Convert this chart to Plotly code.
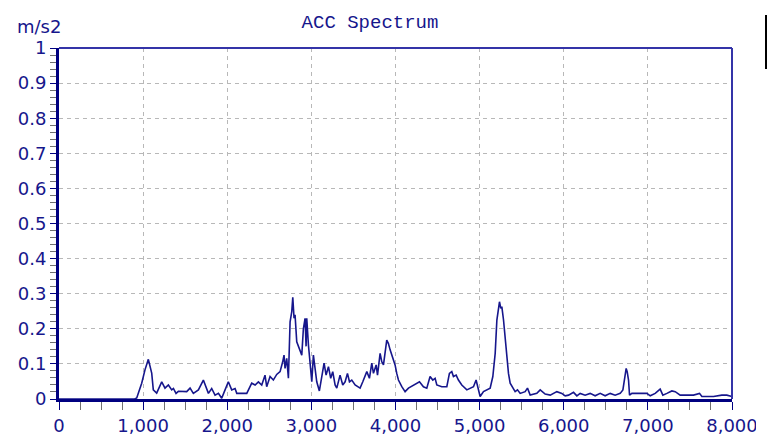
import plotly.graph_objects as go

# ---- data ----
freq = [0, 900, 924, 983, 1022, 1062, 1102, 1121, 1161, 1221, 1260, 1300, 1340, 1360, 1391, 1419,
        1518, 1558, 1597, 1657, 1716, 1750, 1776, 1815, 1855, 1895, 1934, 1974, 2013, 2053, 2093,
        2113, 2232, 2291, 2331, 2370, 2410, 2449, 2469, 2509, 2548, 2588, 2628, 2659, 2675, 2687,
        2707, 2727, 2747, 2767, 2779, 2794, 2806, 2826, 2858, 2886, 2905, 2925, 2937, 2945, 2965,
        2985, 3005, 3024, 3044, 3064, 3095, 3124, 3151, 3175, 3203, 3230, 3254, 3282, 3302, 3341,
        3373, 3401, 3429, 3453, 3480, 3520, 3579, 3611, 3639, 3659, 3690, 3718, 3738, 3770, 3786,
        3817, 3837, 3857, 3896, 3916, 3936, 3967, 3995, 4015, 4035, 4075, 4114, 4154, 4213, 4285,
        4332, 4372, 4411, 4443, 4471, 4491, 4550, 4610, 4641, 4669, 4689, 4721, 4748, 4788, 4848,
        4887, 4927, 4958, 4986, 5006, 5046, 5086, 5125, 5157, 5185, 5205, 5224, 5236, 5252, 5264,
        5284, 5304, 5323, 5343, 5363, 5395, 5422, 5450, 5482, 5541, 5569, 5601, 5680, 5720, 5779,
        5839, 5918, 5977, 6017, 6057, 6116, 6156, 6195, 6254, 6314, 6373, 6433, 6492, 6552, 6611,
        6671, 6703, 6722, 6742, 6754, 6770, 6782, 6810, 6909, 6988, 7028, 7087, 7146, 7178, 7226,
        7285, 7325, 7384, 7463, 7542, 7614, 7642, 7780, 7879, 7939, 7979, 8000]

acc = [0, 0, 0.003, 0.045, 0.083, 0.113, 0.074, 0.026, 0.017, 0.049, 0.031, 0.040, 0.026, 0.030, 0.016, 0.022,
       0.021, 0.031, 0.016, 0.026, 0.054, 0.035, 0.016, 0.030, 0.011, 0.016, 0.002, 0.026, 0.049, 0.026, 0.030,
       0.016, 0.016, 0.045, 0.040, 0.049, 0.040, 0.068, 0.035, 0.064, 0.054, 0.070, 0.078, 0.106, 0.125, 0.087,
       0.116, 0.059, 0.220, 0.249, 0.290, 0.230, 0.240, 0.163, 0.144, 0.125, 0.200, 0.230, 0.150, 0.230, 0.154,
       0.097, 0.049, 0.125, 0.087, 0.049, 0.023, 0.068, 0.102, 0.068, 0.092, 0.059, 0.078, 0.040, 0.031, 0.068,
       0.040, 0.049, 0.073, 0.049, 0.054, 0.040, 0.031, 0.049, 0.068, 0.078, 0.059, 0.102, 0.073, 0.097, 0.068,
       0.130, 0.106, 0.097, 0.168, 0.158, 0.140, 0.120, 0.097, 0.073, 0.054, 0.035, 0.021, 0.031, 0.040, 0.049,
       0.035, 0.031, 0.064, 0.054, 0.059, 0.040, 0.035, 0.035, 0.073, 0.078, 0.064, 0.068, 0.054, 0.040, 0.026,
       0.031, 0.035, 0.054, 0.026, 0.007, 0.021, 0.026, 0.031, 0.064, 0.130, 0.225, 0.263, 0.277, 0.258, 0.263,
       0.225, 0.168, 0.121, 0.073, 0.045, 0.031, 0.021, 0.026, 0.016, 0.021, 0.031, 0.011, 0.016, 0.026, 0.014,
       0.011, 0.021, 0.016, 0.009, 0.011, 0.019, 0.009, 0.016, 0.011, 0.016, 0.009, 0.016, 0.009, 0.016, 0.011,
       0.016, 0.026, 0.059, 0.087, 0.078, 0.054, 0.011, 0.016, 0.016, 0.016, 0.009, 0.016, 0.028, 0.011, 0.016,
       0.023, 0.021, 0.011, 0.011, 0.011, 0.016, 0.007, 0.007, 0.011, 0.011, 0.007, 0.007]

x_tickvals = [0, 1000, 2000, 3000, 4000, 5000, 6000, 7000, 8000]
x_ticktext = ["0", "1,000", "2,000", "3,000", "4,000", "5,000", "6,000", "7,000", "8,000"]
y_tickvals = [0, 0.1, 0.2, 0.3, 0.4, 0.5, 0.6, 0.7, 0.8, 0.9, 1]
y_ticktext = ["0", "0.1", "0.2", "0.3", "0.4", "0.5", "0.6", "0.7", "0.8", "0.9", "1"]

title_text = "ACC Spectrum"
unit_text = "m/s2"

NAVY = "#16168c"
FONT = "DejaVu Sans"
FS = 18

# minor tick positions every 250 Hz
x_minor = [k * 250 for k in range(33) if k % 4 != 0]

fig = go.Figure()
fig.add_trace(go.Scatter(x=freq, y=acc, mode="lines",
                         line=dict(color=NAVY, width=1.6), hoverinfo="skip"))

W, H = 767, 439
L, R, T, B = 59, 35, 48, 40
pw, ph = W - L - R, H - T - B

def px_x(p):
    return (p - L) / pw

def px_y(p):
    return (H - B - p) / ph

fig.update_layout(
    template="none",
    width=W, height=H,
    margin=dict(l=L, r=R, t=T, b=B, pad=0),
    paper_bgcolor="white", plot_bgcolor="white",
    showlegend=False,
    font=dict(family=FONT, color=NAVY, size=FS),
    title=dict(text=title_text, x=370 / W, y=1 - 21 / H, xanchor="center", yanchor="middle",
               font=dict(family="Liberation Mono", size=19, color=NAVY)),
    xaxis=dict(range=[0, 8000], tickmode="array", tickvals=x_tickvals, ticktext=x_ticktext,
               showline=True, linecolor="#000080", linewidth=3, automargin=False,
               ticks="outside", ticklen=8, tickcolor="#000080", tickwidth=1,
               showgrid=True, gridcolor="#b8b8b8", gridwidth=1, griddash="4px,4px",
               zeroline=False,
               minor=dict(tickmode="array", tickvals=x_minor, ticks="outside", ticklen=8,
                          tickcolor="#707070", tickwidth=1, showgrid=False),
               tickfont=dict(family=FONT, size=FS, color=NAVY)),
    yaxis=dict(range=[0, 1], tickmode="array", tickvals=y_tickvals, ticktext=y_ticktext,
               showline=True, linecolor="#000080", linewidth=3, automargin=False,
               ticks="outside", ticklen=6, tickcolor="#000080", tickwidth=1,
               showgrid=True, gridcolor="#b8b8b8", gridwidth=1, griddash="4px,4px",
               zeroline=False,
               minor=dict(dtick=0.02, tick0=0, ticks="outside", ticklen=6,
                          tickcolor="#707070", tickwidth=1, showgrid=False),
               tickfont=dict(family=FONT, size=FS, color=NAVY)),
    annotations=[dict(text=unit_text, xref="paper", yref="paper",
                      x=px_x(15), y=px_y(27), xanchor="left", yanchor="middle",
                      showarrow=False, font=dict(family=FONT, size=FS, color=NAVY))],
    shapes=[
        dict(type="line", xref="paper", yref="paper", x0=0, x1=1, y0=1, y1=1,
             line=dict(color="#3434a8", width=2)),
        dict(type="line", xref="paper", yref="paper", x0=1, x1=1, y0=0, y1=1,
             line=dict(color="#3434a8", width=2)),
        dict(type="rect", xref="paper", yref="paper",
             x0=px_x(765), x1=px_x(767), y0=px_y(69), y1=px_y(15),
             fillcolor="black", line=dict(width=0)),
        dict(type="rect", xref="paper", yref="paper",
             x0=px_x(756), x1=px_x(767), y0=px_y(439), y1=px_y(410),
             fillcolor="white", line=dict(width=0), layer="above"),
    ],
)

fig.write_html("out.html")
